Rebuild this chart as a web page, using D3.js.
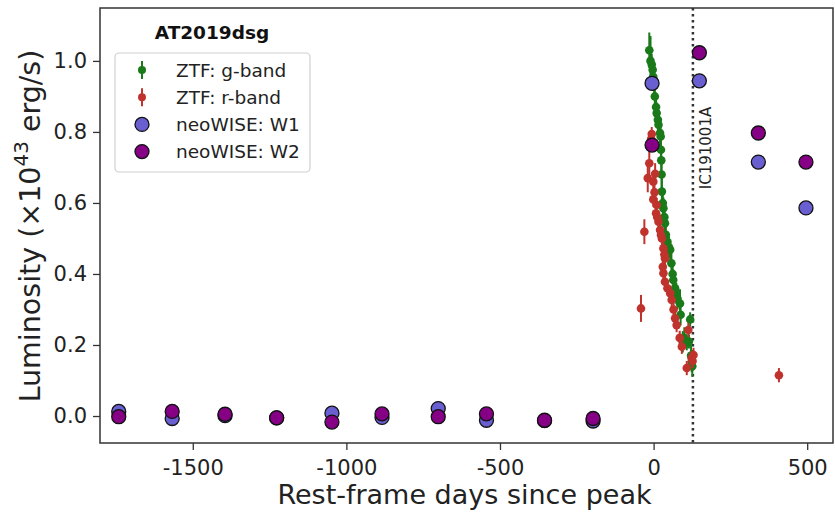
<!DOCTYPE html>
<html>
<head>
<meta charset="utf-8">
<script src="https://cdn.jsdelivr.net/npm/d3@7"></script>
<style>
  body { margin: 0; background: #fff; }
  svg { font-family: "DejaVu Sans", sans-serif; }
</style>
</head>
<body>
<div id="chart"></div>
<script>
// ZTF g-band: [days, luminosity, error]
const gBand = [
  [-14, 1.03, 0.05], [-10, 1.00, 0.07], [-6, 0.99, 0.03], [-3, 0.975, 0.03],
  [-1, 0.955, 0.03], [2, 0.93, 0.03], [4, 0.90, 0.03], [8, 0.87, 0.04], [10, 0.853, 0.03],
  [14, 0.834, 0.03], [16, 0.82, 0.03], [21, 0.797, 0.04], [23, 0.787, 0.03],
  [24, 0.75, 0.04], [25, 0.72, 0.04], [26, 0.68, 0.04], [27, 0.632, 0.05], [30, 0.60, 0.03],
  [32, 0.585, 0.03], [35, 0.56, 0.03], [37, 0.543, 0.03], [40, 0.51, 0.03], [45, 0.49, 0.03],
  [50, 0.475, 0.03], [54, 0.468, 0.03], [58, 0.43, 0.03], [62, 0.40, 0.03], [64, 0.383, 0.03],
  [70, 0.36, 0.03], [74, 0.345, 0.03], [78, 0.33, 0.03], [86, 0.317, 0.04], [88, 0.285, 0.03],
  [95, 0.209, 0.03], [100, 0.22, 0.03], [108, 0.205, 0.02], [115, 0.21, 0.02], [119, 0.272, 0.02],
  [122, 0.17, 0.03], [124, 0.153, 0.03], [126, 0.14, 0.03]
];

// ZTF r-band: [days, luminosity, error]
const rBand = [
  [-41, 0.303, 0.038], [-30, 0.519, 0.035], [-19, 0.67, 0.04], [-14, 0.712, 0.04],
  [-8, 0.78, 0.02], [-6, 0.794, 0.02], [-1, 0.66, 0.03], [5, 0.682, 0.03],
  [-1, 0.61, 0.02], [3, 0.63, 0.02], [10, 0.594, 0.02], [8, 0.571, 0.02],
  [12, 0.56, 0.02], [16, 0.547, 0.02], [21, 0.524, 0.02], [24, 0.51, 0.02], [27, 0.50, 0.02],
  [32, 0.472, 0.02], [35, 0.455, 0.02], [37, 0.444, 0.02], [30, 0.42, 0.02], [32, 0.402, 0.02],
  [37, 0.378, 0.02], [45, 0.36, 0.02], [54, 0.346, 0.02], [59, 0.327, 0.02], [65, 0.30, 0.02],
  [70, 0.275, 0.02], [75, 0.256, 0.02], [85, 0.22, 0.02], [92, 0.195, 0.02],
  [113, 0.242, 0.02], [108, 0.135, 0.02], [124, 0.163, 0.02], [130, 0.172, 0.02],
  [127, 0.155, 0.02], [408, 0.115, 0.02]
];

// neoWISE: [days, luminosity]
const w1 = [
  [-1741, 0.013], [-1567, -0.007], [-1395, 0.001], [-1227, -0.005], [-1047, 0.008],
  [-884, -0.004], [-701, 0.021], [-544, -0.012], [-355, -0.013], [-197, -0.014],
  [-5, 0.937], [149, 0.944], [341, 0.715], [496, 0.586]
];
const w2 = [
  [-1741, -0.002], [-1567, 0.013], [-1395, 0.005], [-1227, -0.005], [-1047, -0.017],
  [-884, 0.006], [-701, -0.002], [-544, 0.006], [-355, -0.012], [-197, -0.007],
  [-5, 0.763], [149, 1.023], [341, 0.797], [496, 0.715]
];

const neutrinoDay = 128;
const neutrinoName = "IC191001A";
const sourceName = "AT2019dsg";
const xTicks = [-1500, -1000, -500, 0, 500];
const yTicks = [0.0, 0.2, 0.4, 0.6, 0.8, 1.0];

const W = 835, H = 514;
const mLeft = 100, mRight = 833, mTop = 8, mBottom = 443;

const gColor = "#1a7a1a", rColor = "#c0332d", w1Color = "#6a5fd0", w2Color = "#860086";

const svg = d3.select("#chart").append("svg")
  .attr("width", W).attr("height", H);

const x = d3.scaleLinear().domain([-1802, 584]).range([mLeft, mRight]);
const y = d3.scaleLinear().domain([-0.076, 1.149]).range([mBottom, mTop]);

// axes
const xAxis = svg.append("g")
  .attr("transform", "translate(0," + mBottom + ")")
  .call(d3.axisBottom(x).tickValues(xTicks).tickFormat(d => String(d)).tickSize(7).tickPadding(10));
const yAxis = svg.append("g")
  .attr("transform", "translate(" + mLeft + ",0)")
  .call(d3.axisLeft(y).tickValues(yTicks).tickFormat(d3.format(".1f")).tickSize(7).tickPadding(6));

[xAxis, yAxis].forEach(a => {
  a.select(".domain").remove();
  a.selectAll("line").attr("stroke", "#333").attr("stroke-width", 1.3);
  a.selectAll("text").attr("font-size", 21).attr("fill", "#222").attr("font-family", "DejaVu Sans");
});

// axis labels
svg.append("text")
  .attr("x", (mLeft + mRight) / 2 - 2).attr("y", 504)
  .attr("text-anchor", "middle").attr("font-size", 27).attr("fill", "#222")
  .text("Rest-frame days since peak");

const ylab = svg.append("text")
  .attr("transform", "translate(40," + 226 + ") rotate(-90)")
  .attr("text-anchor", "middle").attr("font-size", 28.5).attr("fill", "#222");
ylab.append("tspan").text("Luminosity (\u00d710");
ylab.append("tspan").attr("font-size", 20).attr("dy", -12).text("43");
ylab.append("tspan").attr("dy", 12).text(" erg/s)");

// neutrino line
svg.append("line")
  .attr("x1", x(neutrinoDay)).attr("x2", x(neutrinoDay))
  .attr("y1", mTop).attr("y2", mBottom)
  .attr("stroke", "#333").attr("stroke-width", 2.5)
  .attr("stroke-dasharray", "2.5,3.5");

svg.append("text")
  .attr("transform", "translate(" + (x(neutrinoDay) + 18) + ",148) rotate(-90)")
  .attr("text-anchor", "middle").attr("font-size", 15).attr("fill", "#222")
  .text(neutrinoName);

// ZTF points with error bars
function ztf(data, color) {
  const g = svg.append("g");
  g.selectAll("line").data(data).enter().append("line")
    .attr("x1", d => x(d[0])).attr("x2", d => x(d[0]))
    .attr("y1", d => y(d[1] - d[2])).attr("y2", d => y(d[1] + d[2]))
    .attr("stroke", color).attr("stroke-width", 2);
  g.selectAll("circle").data(data).enter().append("circle")
    .attr("cx", d => x(d[0])).attr("cy", d => y(d[1]))
    .attr("r", 4.3).attr("fill", color);
}
ztf(gBand, gColor);
ztf(rBand, rColor);

function wise(data, color) {
  svg.append("g").selectAll("circle").data(data).enter().append("circle")
    .attr("cx", d => x(d[0])).attr("cy", d => y(d[1]))
    .attr("r", 7).attr("fill", color)
    .attr("stroke", "#111").attr("stroke-width", 1.3);
}
wise(w1, w1Color);
wise(w2, w2Color);

// frame
svg.append("rect")
  .attr("x", mLeft).attr("y", mTop)
  .attr("width", mRight - mLeft).attr("height", mBottom - mTop)
  .attr("fill", "none").attr("stroke", "#333").attr("stroke-width", 1.5);

// title + legend
svg.append("text")
  .attr("x", 212).attr("y", 39)
  .attr("text-anchor", "middle").attr("font-size", 18.5).attr("font-weight", "bold")
  .attr("fill", "#111").text(sourceName);

const legend = svg.append("g");
legend.append("rect")
  .attr("x", 115).attr("y", 53).attr("width", 195).attr("height", 119)
  .attr("rx", 4).attr("fill", "#fff").attr("fill-opacity", 0.85)
  .attr("stroke", "#d0d0d0").attr("stroke-width", 1.2);

const items = [
  { label: "ZTF: g-band", color: gColor, type: "ztf" },
  { label: "ZTF: r-band", color: rColor, type: "ztf" },
  { label: "neoWISE: W1", color: w1Color, type: "wise" },
  { label: "neoWISE: W2", color: w2Color, type: "wise" }
];
items.forEach((it, i) => {
  const cy = 70 + i * 27.2;
  if (it.type === "ztf") {
    legend.append("line").attr("x1", 142).attr("x2", 142)
      .attr("y1", cy - 9).attr("y2", cy + 9)
      .attr("stroke", it.color).attr("stroke-width", 2);
    legend.append("circle").attr("cx", 142).attr("cy", cy).attr("r", 4).attr("fill", it.color);
  } else {
    legend.append("circle").attr("cx", 142).attr("cy", cy).attr("r", 7)
      .attr("fill", it.color).attr("stroke", "#111").attr("stroke-width", 1.3);
  }
  legend.append("text").attr("x", 176).attr("y", cy + 6.5)
    .attr("font-size", 18.5).attr("fill", "#222").text(it.label);
});
</script>
</body>
</html>
